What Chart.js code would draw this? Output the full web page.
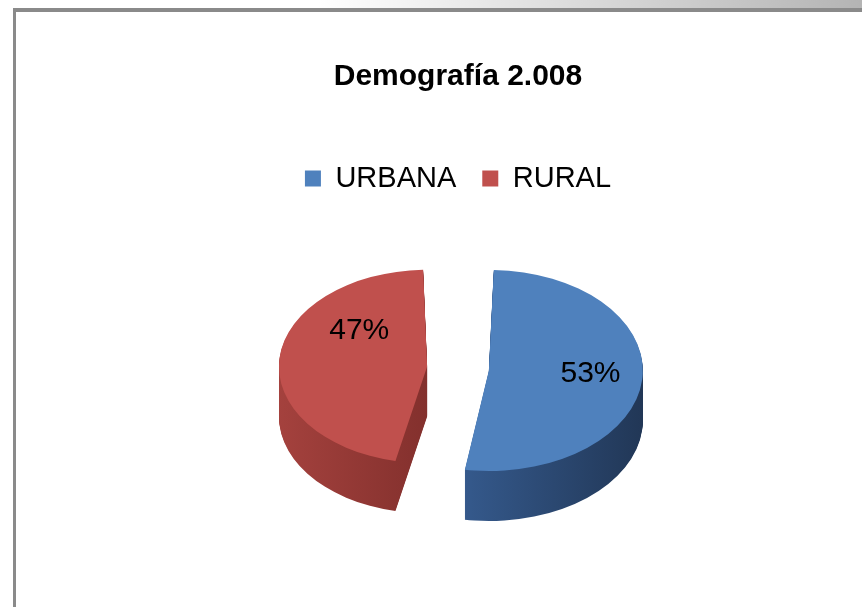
<!DOCTYPE html>
<html>
<head>
<meta charset="utf-8">
<script src="https://cdn.jsdelivr.net/npm/chart.js@4/dist/chart.umd.min.js"></script>
<style>
  html, body { margin: 0; padding: 0; background: #fff; }
  #wrap { position: relative; width: 862px; height: 607px; overflow: hidden; }
  #demoPie { position: absolute; left: 0; top: 0; }
  .band { position: absolute; left: 13px; top: 0; width: 849px; height: 8px;
          background: linear-gradient(to right, #fff 0%, #fff 36%, #b4b4b4 100%); }
  .topLine { position: absolute; left: 13px; top: 8px; width: 849px; height: 4px; background: #8a8a8a; }
  .leftLine { position: absolute; left: 13px; top: 8px; width: 3px; height: 599px; background: #8a8a8a; }
</style>
</head>
<body>
<div id="wrap">
  <canvas id="demoPie" width="862" height="607"></canvas>
  <div class="band"></div>
  <div class="topLine"></div>
  <div class="leftLine"></div>
</div>
<script>
const labels = ["URBANA", "RURAL"];
const shares = [53, 47];
const topColors = ["#4f81bd", "#c0504d"];
// side wall shading, left -> right
const sideColors = [
  ["#4a72a6", "#34588a", "#1e314d"],
  ["#ab4541", "#7b2c29", "#a0413e"],
];
// label nudges (Excel places these a bit differently)
const labelNudge = [[2, -3], [28, -30]];

const squash = 0.653;
const depth = 50;
const fontName = "'Liberation Sans Narrow', 'Liberation Sans', Arial, sans-serif";

// Chart.js moves an offset arc by offset/4 and grows its radius by (offset/4)*fix
function arcShift(el) {
  const circ = el.endAngle - el.startAngle;
  const t = (el.options.offset || 0) / 4;
  const fix = 1 - Math.sin(Math.min(Math.PI, circ));
  return { t: t, r: el.outerRadius + t * fix };
}

const pie3d = {
  id: "pie3d",
  beforeDatasetsDraw(chart) {
    const ctx = chart.ctx;
    const meta = chart.getDatasetMeta(0);
    const cx = meta.data[0].x, cy = meta.data[0].y;
    ctx.save();
    ctx.translate(cx, cy);
    ctx.scale(1, squash);
    ctx.translate(-cx, -cy);
    meta.data.forEach((el, i) => {
      const s = arcShift(el);
      const r = s.r + s.t;
      const g = ctx.createLinearGradient(el.x - r, 0, el.x + r, 0);
      const c = sideColors[i];
      if (i === 0) {
        g.addColorStop(0, c[0]); g.addColorStop(0.45, c[1]); g.addColorStop(1, c[2]);
      } else {
        g.addColorStop(0, c[0]); g.addColorStop(0.6, c[1]); g.addColorStop(0.7, c[1]); g.addColorStop(0.8, c[2]);
      }
      const orig = el.options;
      el.options = Object.assign({}, orig, { backgroundColor: g, borderWidth: 0 });
      for (let k = depth; k >= 1; k--) {
        ctx.save();
        ctx.translate(0, k / squash);
        el.draw(ctx);
        ctx.restore();
      }
      el.options = orig;
    });
  },
  afterDatasetsDraw(chart) {
    const ctx = chart.ctx;
    ctx.restore();
    const meta = chart.getDatasetMeta(0);
    ctx.save();
    ctx.font = "30px " + fontName;
    ctx.fillStyle = "#000";
    ctx.textAlign = "center";
    ctx.textBaseline = "middle";
    meta.data.forEach((el, i) => {
      const mid = (el.startAngle + el.endAngle) / 2;
      const s = arcShift(el);
      const rr = s.r * 0.65 + s.t;
      const x = el.x + Math.cos(mid) * rr + labelNudge[i][0];
      const y = el.y + Math.sin(mid) * rr * squash + labelNudge[i][1];
      ctx.fillText(shares[i] + "%", x, y);
    });
    ctx.restore();
  },
};

const demoPieConfig = {
  type: "pie",
  data: {
    labels: labels,
    datasets: [
      {
        data: shares,
        backgroundColor: topColors,
        borderWidth: 0,
        offset: 124,
        hoverOffset: 124,
        radius: 123,
      },
    ],
  },
  options: {
    responsive: false,
    animation: false,
    events: [],
    layout: { padding: { top: 10, left: 58, right: 4, bottom: 73 } },
    plugins: {
      title: {
        display: true,
        text: "Demografía 2.008",
        color: "#000",
        font: { family: fontName, size: 30, weight: "bold" },
        padding: { top: 49, bottom: 43 },
      },
      legend: {
        position: "top",
        labels: {
          color: "#000",
          boxWidth: 16,
          boxHeight: 16,
          padding: 26,
          font: { family: fontName, size: 29 },
        },
      },
      tooltip: { enabled: false },
    },
  },
  plugins: [pie3d],
};

const demoPie = new Chart(document.getElementById("demoPie"), demoPieConfig);
</script>
</body>
</html>
